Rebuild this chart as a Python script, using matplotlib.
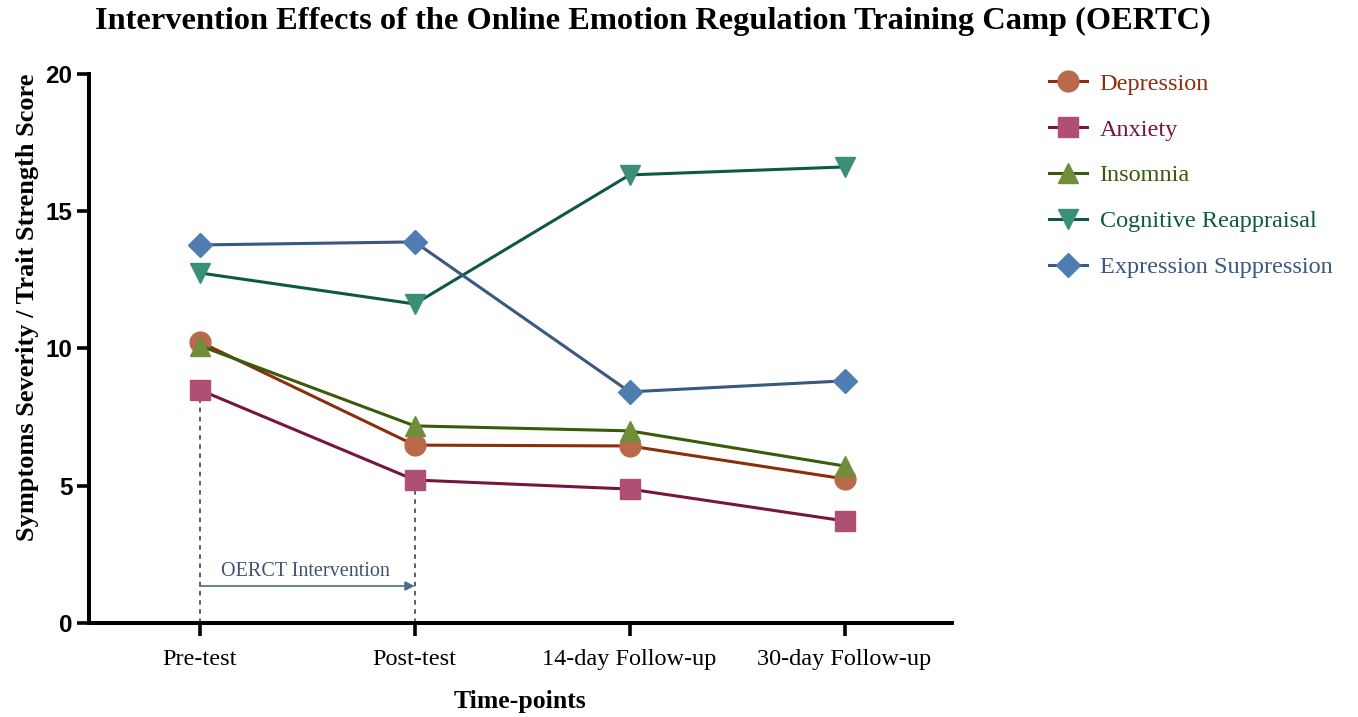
import matplotlib
matplotlib.use("Agg")
from matplotlib import pyplot as plt

timepoints = ["Pre-test", "Post-test", "14-day Follow-up", "30-day Follow-up"]

depression = [10.24, 6.48, 6.45, 5.25]
anxiety = [8.49, 5.21, 4.88, 3.72]
insomnia = [10.10, 7.18, 7.00, 5.72]
cognitive_reappraisal = [12.75, 11.62, 16.32, 16.61]
expression_suppression = [13.77, 13.88, 8.42, 8.82]

series_names = ["Depression", "Anxiety", "Insomnia", "Cognitive Reappraisal", "Expression Suppression"]
series_values = [depression, anxiety, insomnia, cognitive_reappraisal, expression_suppression]
line_colors = ["#8a2f0c", "#76163f", "#3b5a0c", "#0d5a44", "#3a5880"]
marker_colors = ["#b96a4b", "#b04f74", "#6f8e3a", "#3a8f78", "#4f7db1"]
markers = ["o", "s", "^", "v", "D"]
marker_sizes = [15, 15, 15, 15, 12]

serif = ["Liberation Serif", "DejaVu Serif"]
sans = ["Liberation Sans", "DejaVu Sans"]

fig = plt.figure(figsize=(13.58, 7.17), dpi=100)
ax = fig.add_axes([0.0655, 0.131, 0.6355, 0.766])

x = list(range(len(timepoints)))
handles = []
for name, vals, lc, mc, m, ms in zip(series_names, series_values, line_colors, marker_colors, markers, marker_sizes):
    h, = ax.plot(x, vals, color=lc, linewidth=2.2, marker=m, markersize=ms,
                 markerfacecolor=mc, markeredgecolor=mc, label=name, zorder=3)
    handles.append(h)

# dashed guides marking the intervention period
ax.plot([0, 0], [0, anxiety[0]], color="#333333", linestyle=(0, (3, 3)), linewidth=1.1, zorder=1)
ax.plot([1, 1], [0, anxiety[1]], color="#333333", linestyle=(0, (3, 3)), linewidth=1.1, zorder=1)
ax.annotate("", xy=(1, 1.35), xytext=(0, 1.35),
            arrowprops=dict(arrowstyle="-|>", color="#556a88", lw=1.2, mutation_scale=14, shrinkA=0, shrinkB=0))
ax.text(0.49, 1.52, "OERCT Intervention", ha="center", va="bottom", fontsize=14.5,
        color="#3f5473", family=serif)

ax.set_xlim(-0.516, 3.5)
ax.set_ylim(0, 20)
ax.set_yticks([0, 5, 10, 15, 20])
ax.set_xticks(x)
ax.set_xticklabels(timepoints, family=serif, fontsize=17.5)
for lab in ax.get_yticklabels():
    lab.set_family(sans)
    lab.set_fontweight("bold")
    lab.set_fontsize(17.5)

for s in ["top", "right"]:
    ax.spines[s].set_visible(False)
for s in ["left", "bottom"]:
    ax.spines[s].set_linewidth(2.9)
ax.tick_params(axis="y", length=9, width=2.6, pad=3)
ax.tick_params(axis="x", length=9, width=2.6, pad=10)

ax.set_xlabel("Time-points", family=serif, fontweight="bold", fontsize=18.5, labelpad=14)
ax.set_ylabel("Symptoms Severity / Trait Strength Score", family=serif, fontweight="bold",
              fontsize=19, labelpad=8)
ax.yaxis.set_label_coords(-0.058, 0.575)

fig.text(0.481, 0.99, "Intervention Effects of the Online Emotion Regulation Training Camp (OERTC)",
         ha="center", va="top", family=serif, fontweight="bold", fontsize=23.3)

leg = fig.legend(handles=handles, loc="upper left", bbox_to_anchor=(0.756, 0.929), frameon=False,
                 prop={"family": serif, "size": 17.5}, labelspacing=0.98, handlelength=1.6,
                 handletextpad=0.5)
for txt, c in zip(leg.get_texts(), line_colors):
    txt.set_color(c)

fig.savefig("out.png", dpi=100)
